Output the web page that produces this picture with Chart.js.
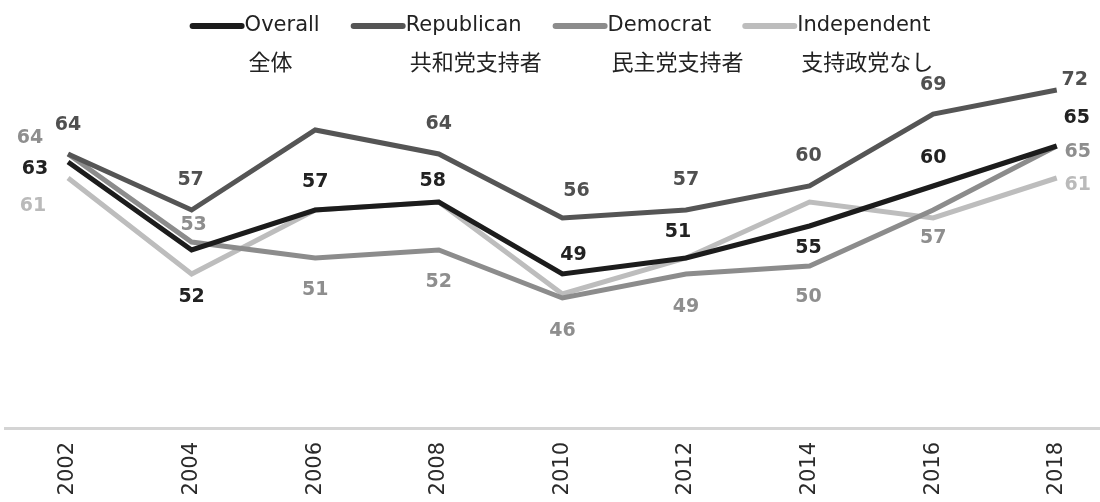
<!DOCTYPE html>
<html>
<head>
<meta charset="utf-8">
<script src="https://cdn.jsdelivr.net/npm/chart.js@4"></script>
<style>
  body { margin: 0; background: #fff; }
  #wrap { width: 1100px; height: 502px; position: relative; }
</style>
</head>
<body>
<div id="wrap"><canvas id="trendChart"></canvas></div>
<script>
const years = [2002, 2004, 2006, 2008, 2010, 2012, 2014, 2016, 2018];
const seriesNames = ['Overall', 'Republican', 'Democrat', 'Independent'];
const jpLabels = ['全体', '共和党支持者', '民主党支持者', '支持政党なし'];
const overall = [63, 52, 57, 58, 49, 51, 55, 60, 65];
const republican = [64, 57, 67, 64, 56, 57, 60, 69, 72];
const democrat = [64, 53, 51, 52, 46, 49, 50, 57, 65];
const independent = [61, 49, 57, 58, 46.5, 51, 58, 56, 61];

const lineColors = ['#1c1c1c', '#555555', '#8c8c8c', '#bdbdbd'];
const labelColors = ['#222222', '#505050', '#8e8e8e', '#bababa'];

// where each value label sits relative to its point (null = no label)
const labelOffsets = [
    [[-33, 7], [0, 47], [0, -28], [-6, -21], [11, -19], [-8, -26], [-1, 22], [0, -28], [20, -28]],
    [[0, -29], [-1, -30], null, [0, -30], [14, -27], [0, -30], [-1, -30], [0, -29], [18, -10]],
    [[-38, -16], [2, -17], [0, 32], [0, 32], [0, 33], [0, 33], [-1, 31], [0, 28], [21, 6]],
    [[-35, 28], null, null, null, null, null, null, null, [21, 7]]
];

const valueLabels = {
    id: 'valueLabels',
    afterDatasetsDraw(chart) {
        const c = chart.ctx;
        c.save();
        c.font = 'bold 19px "DejaVu Sans"';
        c.textAlign = 'center';
        c.textBaseline = 'middle';
        chart.data.datasets.forEach((ds, i) => {
            const meta = chart.getDatasetMeta(i);
            meta.data.forEach((pt, j) => {
                const off = labelOffsets[i][j];
                if (!off) return;
                c.fillStyle = labelColors[i];
                c.fillText(String(ds.data[j].y), pt.x + off[0], pt.y + off[1]);
            });
        });
        c.restore();
    }
};

const twoRowLegend = {
    id: 'twoRowLegend',
    afterDraw(chart) {
        const c = chart.ctx;
        const sets = chart.data.datasets;
        const lineLen = 52, gap = 3, spacing = 31;
        c.save();
        c.font = '21px "DejaVu Sans"';
        const widths = sets.map(ds => lineLen + gap + c.measureText(ds.label).width);
        const total = widths.reduce((a, b) => a + b, 0) + spacing * (sets.length - 1);
        let x = 560 - total / 2;
        c.textBaseline = 'middle';
        sets.forEach((ds, i) => {
            c.strokeStyle = ds.borderColor;
            c.lineWidth = 6;
            c.lineCap = 'round';
            c.beginPath();
            c.moveTo(x + 3, 26);
            c.lineTo(x + lineLen, 26);
            c.stroke();
            c.fillStyle = '#222';
            c.font = '21px "DejaVu Sans"';
            c.fillText(ds.label, x + lineLen + gap, 26);
            c.font = '22px "Noto Sans CJK JP"';
            c.fillText(jpLabels[i], x + lineLen + gap + 4, 62);
            x += widths[i] + spacing;
        });
        c.restore();
    }
};

document.addEventListener('DOMContentLoaded', () => {
    const ctx = document.getElementById('trendChart').getContext('2d');
    const values = [overall, republican, democrat, independent];

    const data = {
        datasets: seriesNames.map((name, i) => ({
            label: name,
            data: years.map((yr, j) => ({ x: yr, y: values[i][j] })),
            borderColor: lineColors[i],
            backgroundColor: lineColors[i],
            borderWidth: 5,
            pointRadius: 0,
            tension: 0,
            fill: false
        }))
    };

    const config = {
        type: 'line',
        data: data,
        options: {
            responsive: true,
            maintainAspectRatio: false,
            animation: false,
            layout: { padding: { left: 5, right: 0, top: 0, bottom: 0 } },
            scales: {
                x: {
                    type: 'linear',
                    min: 2000.98,
                    max: 2018.7,
                    grid: { display: false, drawTicks: false },
                    border: { display: true, color: '#d4d4d4', width: 3 },
                    afterBuildTicks: (scale) => {
                        scale.ticks = years.map(v => ({ value: v }));
                    },
                    afterFit: (scale) => {
                        scale.height = 74;
                    },
                    ticks: {
                        autoSkip: false,
                        minRotation: 90,
                        maxRotation: 90,
                        padding: 14,
                        color: '#2a2a2a',
                        font: { family: '"DejaVu Sans"', size: 21 },
                        callback: (v) => String(v)
                    }
                },
                y: {
                    display: false,
                    min: 29.75,
                    max: 83.25
                }
            },
            plugins: {
                legend: { display: false },
                tooltip: { enabled: false }
            }
        },
        plugins: [valueLabels, twoRowLegend]
    };

    const trendChart = new Chart(ctx, config);
});
</script>
</body>
</html>
